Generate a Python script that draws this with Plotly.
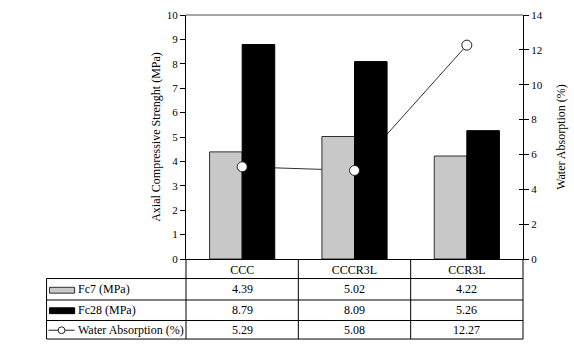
import plotly.graph_objects as go

categories = ["CCC", "CCCR3L", "CCR3L"]
fc7 = [4.39, 5.02, 4.22]
fc28 = [8.79, 8.09, 5.26]
water = [5.29, 5.08, 12.27]
row_labels = ["Fc7 (MPa)", "Fc28 (MPa)", "Water Absorption (%)"]
rows = [fc7, fc28, water]

FONT = "'Liberation Serif', 'Times New Roman', 'DejaVu Serif', serif"
W, H = 574, 346
L, R, T, B = 186, 534, 9, 259


def px(p):
    return (p - L) / (R - L)


def py(p):
    return (B - p) / (B - T)


fig = go.Figure()

# line (behind bars) on primary y (water axis, right side)
fig.add_trace(go.Scatter(x=categories, y=water, mode="lines", yaxis="y",
                         line=dict(color="#303030", width=1), showlegend=False))
# bars on y2 (strength, left)
fig.add_trace(go.Bar(x=categories, y=fc7, yaxis="y2", name=row_labels[0],
                     marker=dict(color="#C8C8C8", line=dict(color="#303030", width=1)),
                     showlegend=False))
fig.add_trace(go.Bar(x=categories, y=fc28, yaxis="y2", name=row_labels[1],
                     marker=dict(color="#000000", line=dict(color="#000000", width=1)),
                     showlegend=False))
# markers on top
fig.add_trace(go.Scatter(x=categories, y=water, mode="markers", yaxis="y3",
                         marker=dict(symbol="circle", size=10, color="white",
                                     line=dict(color="#202020", width=1)),
                         showlegend=False))

tickfont = dict(family=FONT, size=11, color="black")
titlefont = dict(family=FONT, size=12, color="black")

fig.update_layout(
    width=W, height=H,
    margin=dict(l=L, r=W - R, t=T, b=H - B),
    paper_bgcolor="white", plot_bgcolor="white",
    barmode="group", bargap=0.42, bargroupgap=0,
    font=dict(family=FONT, color="black"),
    xaxis=dict(showline=True, linecolor="black", linewidth=1, ticks="",
               tickfont=dict(family=FONT, size=12, color="black"),
               showgrid=False, zeroline=False, fixedrange=True),
    yaxis=dict(side="right", range=[0, 14], dtick=2, ticks="outside", ticklen=5,
               tickcolor="black", showline=True, linecolor="black", linewidth=1,
               showgrid=False, zeroline=False, tickfont=tickfont,
               title=dict(text="Water Absorption (%)", font=titlefont, standoff=14)),
    yaxis2=dict(overlaying="y", side="left", range=[0, 10], dtick=1, ticks="outside",
                ticklen=5, tickcolor="black", showline=True, linecolor="black",
                linewidth=1, showgrid=False, zeroline=False, tickfont=tickfont,
                title=dict(text="Axial Compressive Strenght (MPa)", font=titlefont,
                           standoff=3)),
    yaxis3=dict(overlaying="y", side="right", range=[0, 14], dtick=2, ticks="inside",
                ticklen=4, tickcolor="black", showticklabels=False, showline=False,
                showgrid=False, zeroline=False),
    yaxis4=dict(overlaying="y", side="left", range=[0, 10], dtick=1, ticks="inside",
                ticklen=4, tickcolor="black", showticklabels=False, showline=False,
                showgrid=False, zeroline=False),
)

shapes = []
line_k = dict(color="black", width=1)
# top gray border
shapes.append(dict(type="line", xref="paper", yref="paper", x0=0, x1=1, y0=1, y1=1,
                   line=dict(color="#A8A8A8", width=2)))
# table horizontal lines
for yy in [279, 301, 322, 341]:
    shapes.append(dict(type="line", xref="paper", yref="paper", x0=px(42), x1=px(R),
                       y0=py(yy), y1=py(yy), line=line_k))
# table vertical lines
shapes.append(dict(type="line", xref="paper", yref="paper", x0=px(42), x1=px(42),
                   y0=py(279), y1=py(341), line=line_k))
for xx in [L, 302, 418, R]:
    shapes.append(dict(type="line", xref="paper", yref="paper", x0=px(xx), x1=px(xx),
                       y0=py(B), y1=py(341), line=line_k))
# legend keys
shapes.append(dict(type="rect", xref="paper", yref="paper", x0=px(45), x1=px(71),
                   y0=py(288), y1=py(294), fillcolor="#C8C8C8",
                   line=dict(color="#303030", width=1)))
shapes.append(dict(type="rect", xref="paper", yref="paper", x0=px(45), x1=px(71),
                   y0=py(309), y1=py(315), fillcolor="#000000",
                   line=dict(color="#000000", width=1)))
shapes.append(dict(type="line", xref="paper", yref="paper", x0=px(44), x1=px(71),
                   y0=py(332), y1=py(332), line=dict(color="#202020", width=1)))
shapes.append(dict(type="circle", xref="paper", yref="paper", x0=px(54), x1=px(61),
                   y0=py(328.5), y1=py(335.5), fillcolor="white",
                   line=dict(color="#202020", width=1)))
fig.update_layout(shapes=shapes)

ann = []
row_centers = [290, 311, 332]
for label, vals, yc in zip(row_labels, rows, row_centers):
    ann.append(dict(text=label, xref="paper", yref="paper", x=px(72), y=py(yc),
                    xanchor="left", yanchor="middle", showarrow=False,
                    font=dict(family=FONT, size=12, color="black")))
    for c, v in zip(categories, vals):
        ann.append(dict(text=f"{v:.2f}", xref="x", yref="paper", x=c, y=py(yc),
                        xanchor="center", yanchor="middle", showarrow=False,
                        font=dict(family=FONT, size=12, color="black")))
fig.update_layout(annotations=ann)

fig.write_html("out.html")
